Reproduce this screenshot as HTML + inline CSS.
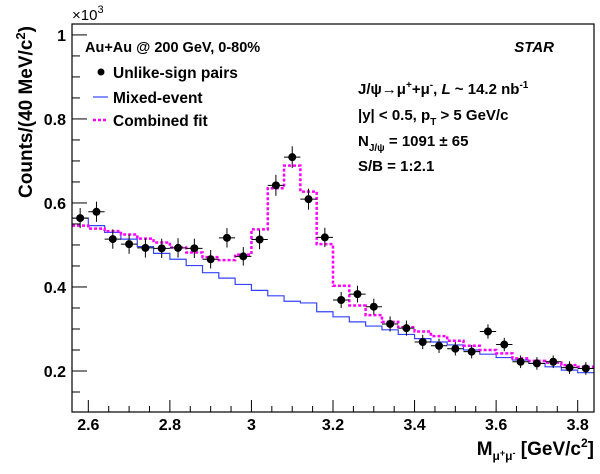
<!DOCTYPE html>
<html><head><meta charset="utf-8">
<style>
html,body{margin:0;padding:0;background:#fff;}
svg text{font-family:"Liberation Sans",sans-serif;font-weight:bold;fill:#000;}
</style></head>
<body>
<svg id="chart" width="600" height="469" xmlns="http://www.w3.org/2000/svg">
<rect x="0" y="0" width="600" height="469" fill="#fff"/>
<g id="plot"></g>
<g id="axes"></g>
<text x="72" y="20" font-size="15" style="font-weight:normal">×10<tspan dy="-7" font-size="11">3</tspan></text>
<text transform="translate(32,112) rotate(-90)" text-anchor="middle" font-size="19">Counts/(40 MeV/c<tspan dy="-7" font-size="13">2</tspan><tspan dy="7">)</tspan></text>
<text x="594" y="455" text-anchor="end" font-size="19">M<tspan dy="5" font-size="12">μ<tspan dy="-4" font-size="9">+</tspan><tspan dy="4">μ</tspan><tspan dy="-4" font-size="9">-</tspan></tspan><tspan dy="-1"> [GeV/c</tspan><tspan dy="-8" font-size="12">2</tspan><tspan dy="8">]</tspan></text>
<text x="85" y="52" font-size="14.5">Au+Au @ 200 GeV, 0-80%</text>
<g>
<g>
<circle cx="101" cy="72" r="3.5" fill="#000"/>
<text x="113" y="78" font-size="15.5">Unlike-sign pairs</text></g>
<g>
<line x1="93" y1="97" x2="108" y2="97" stroke="#3344ff" stroke-width="1.2"/>
<text x="113" y="103" font-size="15.5">Mixed-event</text></g>
<g>
<line x1="93" y1="120" x2="108" y2="120" stroke="#ff00ff" stroke-width="2.5" stroke-dasharray="3,2"/>
<text x="113" y="126" font-size="15.5">Combined fit</text></g>
</g>
<text x="554" y="52" text-anchor="end" font-size="15" font-style="italic">STAR</text>
<text x="358" y="94" font-size="15">J/ψ→μ<tspan dy="-6" font-size="10">+</tspan><tspan dy="6">+μ</tspan><tspan dy="-6" font-size="10">-</tspan><tspan dy="6">,  </tspan><tspan font-style="italic">L</tspan> ~ 14.2 nb<tspan dy="-6" font-size="10">-1</tspan></text>
<text x="358" y="120" font-size="15">|y| &lt; 0.5, p<tspan dy="5" font-size="10">T</tspan><tspan dy="-5"> &gt; 5 GeV/c</tspan></text>
<text x="358" y="146" font-size="15">N<tspan dy="5" font-size="10">J/ψ</tspan><tspan dy="-5"> = 1091 ± 65</tspan></text>
<text x="358" y="171" font-size="15">S/B = 1:2.1</text>
</svg>
<script>
const binLo = 2.56, binW = 0.04;
const dataCounts = [0.564,0.579,0.514,0.502,0.493,0.492,0.493,0.492,0.466,0.517,0.473,0.513,0.642,0.709,0.609,0.518,0.369,0.383,0.353,0.312,0.302,0.269,0.260,0.253,0.246,0.294,0.263,0.222,0.218,0.222,0.208,0.206];
const dataErrors = [0.024,0.024,0.023,0.023,0.023,0.023,0.023,0.023,0.022,0.023,0.022,0.023,0.025,0.026,0.025,0.023,0.019,0.020,0.019,0.018,0.018,0.017,0.017,0.016,0.016,0.017,0.016,0.015,0.015,0.015,0.015,0.015];
const mixedCounts = [0.564,0.546,0.530,0.514,0.496,0.480,0.466,0.451,0.434,0.421,0.406,0.392,0.379,0.366,0.362,0.341,0.329,0.317,0.307,0.298,0.287,0.277,0.269,0.262,0.250,0.240,0.232,0.226,0.218,0.210,0.202,0.196];
const fitCounts = [0.546,0.539,0.533,0.525,0.515,0.506,0.494,0.482,0.471,0.464,0.477,0.537,0.635,0.689,0.627,0.502,0.403,0.356,0.333,0.317,0.304,0.294,0.283,0.272,0.260,0.250,0.242,0.230,0.224,0.220,0.214,0.210];
const xTicks = [2.6,2.8,3.0,3.2,3.4,3.6,3.8];
const xTickLabels = ["2.6","2.8","3","3.2","3.4","3.6","3.8"];
const yTicks = [0.2,0.4,0.6,0.8,1.0];
const yTickLabels = ["0.2","0.4","0.6","0.8","1"];

const X0=72,X1=594,Y0=24,Y1=412;
const xmin=2.56,xmax=3.84;
const ymin=0.1024,ymax=1.026;
const sx=v=>X0+(v-xmin)/(xmax-xmin)*(X1-X0);
const sy=v=>Y1-(v-ymin)/(ymax-ymin)*(Y1-Y0);
const NS="http://www.w3.org/2000/svg";
const plot=document.getElementById('plot');
const axes=document.getElementById('axes');
function mk(tag,attrs,parent){const e=document.createElementNS(NS,tag);for(const k in attrs)e.setAttribute(k,attrs[k]);parent.appendChild(e);return e;}

function stepPath(vals){
  let d='';
  vals.forEach((v,i)=>{const a=sx(binLo+i*binW),b=sx(binLo+(i+1)*binW),y=sy(v);
    d+=(i===0?'M':'L')+a+','+y+'L'+b+','+y;});
  return d;
}
const mixed=mk('path',{d:stepPath(mixedCounts),fill:'none',stroke:'#3344ff','stroke-width':1.2},plot);


const fit=mk('path',{d:stepPath(fitCounts),fill:'none',stroke:'#ff00ff','stroke-width':2.5,'stroke-dasharray':'3,2'},plot);



dataCounts.forEach((v,i)=>{
  const c=binLo+(i+0.5)*binW;
  const g=mk('g',{},plot);
  
  
  const e=dataErrors[i];
  mk('line',{x1:sx(c),x2:sx(c),y1:sy(v-e),y2:sy(v+e),stroke:'#000','stroke-width':1},g);
  mk('line',{x1:sx(c-binW/2),x2:sx(c+binW/2),y1:sy(v),y2:sy(v),stroke:'#000','stroke-width':1},g);
  mk('circle',{cx:sx(c),cy:sy(v),r:4,fill:'#000'},g);
});

const frame=mk('rect',{x:X0,y:Y0,width:X1-X0,height:Y1-Y0,fill:'none',stroke:'#000','stroke-width':1.2},axes);


for(let k=0;k<=30;k++){const v=2.55+k*0.05;if(v<xmin-1e-9||v>xmax+1e-9)continue;
  const major=Math.abs(v*5-Math.round(v*5))<1e-6;
  mk('line',{x1:sx(v),x2:sx(v),y1:Y1,y2:Y1-(major?12:6),stroke:'#000','stroke-width':1},axes);}
for(let k=0;k<=20;k++){const v=0.05*k;if(v<ymin||v>ymax)continue;
  const major=Math.abs(v*5-Math.round(v*5))<1e-6;
  mk('line',{x1:X0,x2:X0+(major?15:8),y1:sy(v),y2:sy(v),stroke:'#000','stroke-width':1},axes);}
xTicks.forEach((v,i)=>{const t=mk('text',{x:sx(v),y:430,'text-anchor':'middle','font-size':16},axes);t.textContent=xTickLabels[i];
  
  });
yTicks.forEach((v,i)=>{const t=mk('text',{x:66,y:sy(v)+6,'text-anchor':'end','font-size':16},axes);t.textContent=yTickLabels[i];
  
  });
</script>
</body></html>
